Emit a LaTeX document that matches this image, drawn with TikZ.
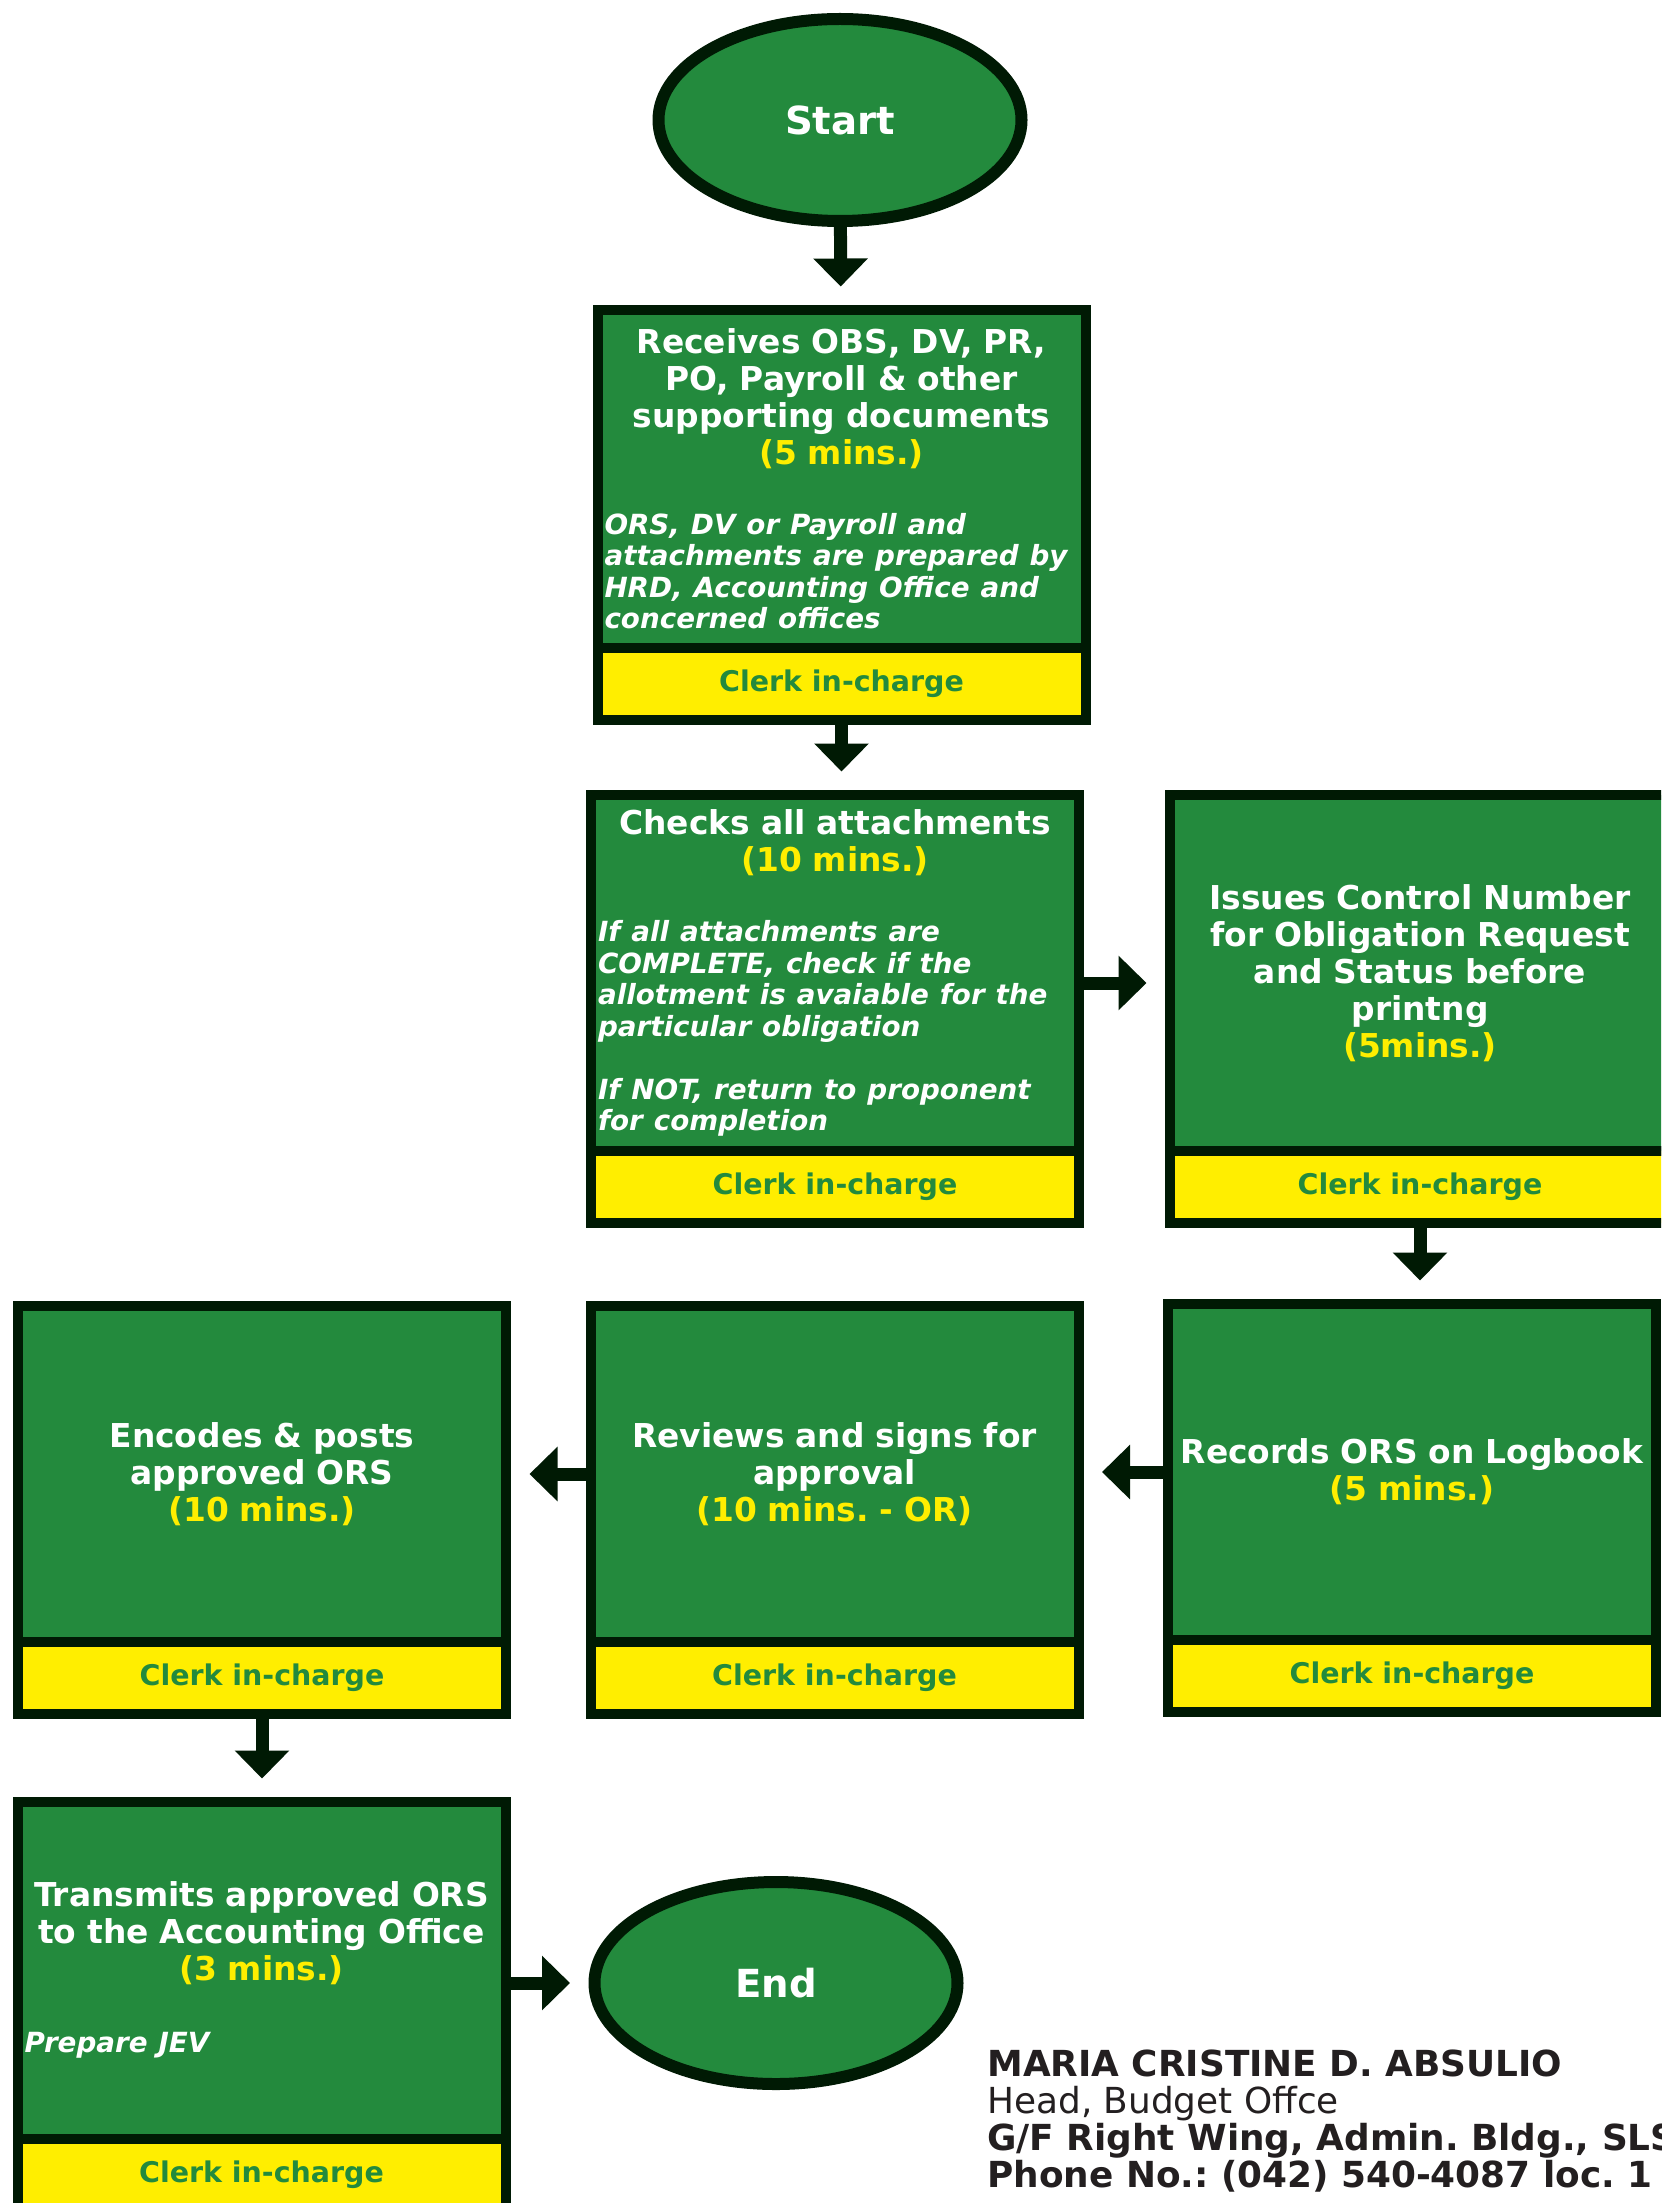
\documentclass[tikz,border=0pt]{standalone}
\usepackage{fontspec}
\setmainfont{DejaVu Sans}
\usepackage{xcolor}
\usepackage{tikz}
\usetikzlibrary{positioning, arrows.meta, shapes.geometric}

\definecolor{boxGreen}{HTML}{238A3D}
\definecolor{edgeDark}{HTML}{001A04}
\definecolor{barYellow}{HTML}{FFEE00}
\definecolor{signGray}{HTML}{231F20}

\newcommand{\boxfont}{\fontsize{18.7}{21}\selectfont\bfseries}
\newcommand{\notefont}{\fontsize{15.8}{17.9}\selectfont\bfseries\itshape}
\newcommand{\clerkfont}{\fontsize{16.2}{19}\selectfont\bfseries}
\newcommand{\termfont}{\fontsize{22}{26}\selectfont\bfseries}
\newcommand{\signfont}{\fontsize{20.4}{21}\selectfont}
\newcommand{\mins}[1]{\textcolor{barYellow}{#1}}
\newcommand{\remark}[1]{\parbox[t]{9.48cm}{\raggedright\notefont #1}}

\frenchspacing

\begin{document}
\begin{tikzpicture}[
    >={Triangle[length=5.6mm, width=10.6mm]}, % big filled heads like the chart
    terminal/.style={
        ellipse,
        draw=edgeDark,
        line width=2.4mm,
        fill=boxGreen,
        minimum width=7.26cm,
        minimum height=4.04cm,
        inner sep=0pt,
        text=white,
        font=\termfont
    },
    stepbox/.style={
        rectangle,
        draw=edgeDark,
        line width=2mm,
        fill=boxGreen,
        minimum width=9.76cm,
        text width=9.7cm,
        inner sep=0pt,
        align=center,
        text=white,
        font=\boxfont
    },
    clerkbar/.style={
        rectangle,
        draw=edgeDark,
        line width=2mm,
        fill=barYellow,
        minimum width=9.76cm,
        minimum height=1.44cm,
        inner sep=0pt,
        text=boxGreen,
        font=\clerkfont
    },
    flow/.style={
        draw=edgeDark,
        line width=2.6mm,
        shorten >=3.7mm
    }
]

    % page frame (same size as the chart sheet)
    \clip (0,0) rectangle (33.22,-44.06);

    % =======================================================
    % START
    % =======================================================
    \node[terminal] (startT) at (16.8, -2.4) {Start};

    % =======================================================
    % RECEIVING AND CHECKING
    % =======================================================
    \node[stepbox, minimum height=6.75cm] (recvBox) at (16.83, -9.575) {
        Receives OBS, DV, PR,\\ PO, Payroll \& other\\ supporting documents\\
        \mins{(5 mins.)}\\[19pt]
        \remark{ORS, DV or Payroll and\\ attachments are prepared by\\
        HRD, Accounting Office and\\ concerned offices}};
    \node[clerkbar, below=-2mm of recvBox] (recvClerk) {Clerk in-charge};

    \node[stepbox, minimum height=7.12cm] (checkBox) at (16.70, -19.46) {
        Checks all attachments\\ \mins{(10 mins.)}\\[19pt]
        \remark{If all attachments are\\ COMPLETE, check if the\\
        allotment is avaiable for the\\ particular obligation\\[17.9pt]
        If NOT, return to proponent\\ for completion}};
    \node[clerkbar, below=-2mm of checkBox] (checkClerk) {Clerk in-charge};

    % this one runs off the right edge of the sheet
    \node[stepbox, minimum height=7.12cm, minimum width=10cm] (issueBox) at (28.40, -19.46) {
        Issues Control Number\\ for Obligation Request\\ and Status before\\
        printng\\ \mins{(5mins.)}};
    \node[clerkbar, minimum width=10cm, below=-2mm of issueBox] (issueClerk) {Clerk in-charge};

    % =======================================================
    % RECORDING, REVIEW AND ENCODING (right to left)
    % =======================================================
    \node[stepbox, minimum height=6.72cm] (recordBox) at (28.24, -29.44) {
        Records ORS on Logbook\\ \mins{(5 mins.)}};
    \node[clerkbar, below=-2mm of recordBox] (recordClerk) {Clerk in-charge};

    \node[stepbox, minimum height=6.72cm] (reviewBox) at (16.69, -29.48) {
        Reviews and signs for\\ approval\\ \mins{(10 mins. - OR)}};
    \node[clerkbar, below=-2mm of reviewBox] (reviewClerk) {Clerk in-charge};

    \node[stepbox, minimum height=6.72cm] (encodeBox) at (5.24, -29.48) {
        Encodes \& posts\\ approved ORS\\ \mins{(10 mins.)}};
    \node[clerkbar, below=-2mm of encodeBox] (encodeClerk) {Clerk in-charge};

    % =======================================================
    % TRANSMITTAL AND END
    % =======================================================
    \node[stepbox, minimum height=6.73cm] (sendBox) at (5.23, -39.405) {
        Transmits approved ORS\\ to the Accounting Office\\
        \mins{(3 mins.)}\\[20pt]
        \remark{Prepare JEV}};
    \node[clerkbar, below=-2mm of sendBox] (sendClerk) {Clerk in-charge};

    \node[terminal] (endT) at (15.52, -39.66) {End};

    % Signatory
    \node[anchor=north west, align=left, inner sep=0pt, text=signGray,
          font=\signfont] (signText) at (19.74, -41.0) {
        \textbf{MARIA CRISTINE D. ABSULIO}\\ Head, Budget Offce\\
        \textbf{G/F Right Wing, Admin. Bldg., SLS}\\
        \textbf{Phone No.: (042) 540-4087 loc. 1}};

    % =======================================================
    % FLOW ARROWS
    % =======================================================
    \draw[flow, ->] (startT) -- (recvBox);
    \draw[flow, ->] (recvClerk.south) -- (recvClerk.south |- checkBox.north);
    \draw[flow, ->] ([yshift=-2mm]checkBox.east) -- ([yshift=-2mm]checkBox.east -| issueBox.west);
    \draw[flow, ->] (issueClerk.south) -- (issueClerk.south |- recordBox.north);
    \draw[flow, ->] (recordBox.west) -- (recordBox.west -| reviewBox.east);
    \draw[flow, ->] (reviewBox.west) -- (reviewBox.west -| encodeBox.east);
    \draw[flow, ->] (encodeClerk.south) -- (encodeClerk.south |- sendBox.north);
    \draw[flow, ->] (endT.west -| sendBox.east) -- (endT.west);

\end{tikzpicture}
\end{document}
